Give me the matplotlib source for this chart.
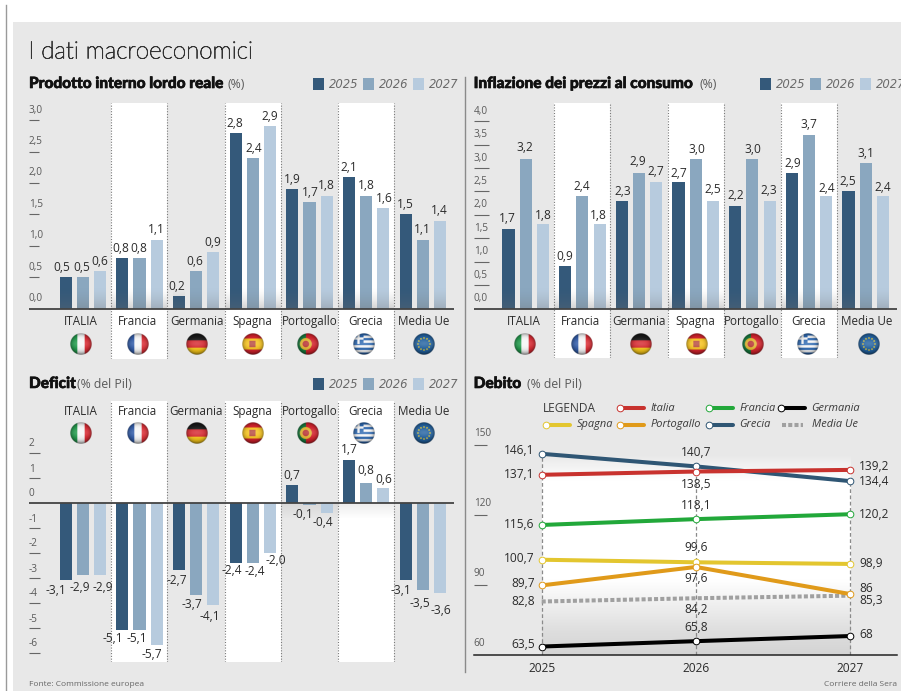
import numpy as np
import matplotlib
matplotlib.use("Agg")
import matplotlib.pyplot as plt
import matplotlib.patheffects as pe
from matplotlib.patches import Rectangle
from matplotlib.path import Path
from matplotlib.transforms import blended_transform_factory

# ---------- data ----------
countries = ["ITALIA", "Francia", "Germania", "Spagna", "Portogallo", "Grecia", "Media Ue"]
flags = ["it", "fr", "de", "es", "pt", "gr", "eu"]
years = [2025, 2026, 2027]

pil_2025 = [0.5, 0.8, 0.2, 2.8, 1.9, 2.1, 1.5]
pil_2026 = [0.5, 0.8, 0.6, 2.4, 1.7, 1.8, 1.1]
pil_2027 = [0.6, 1.1, 0.9, 2.9, 1.8, 1.6, 1.4]

infl_2025 = [1.7, 0.9, 2.3, 2.7, 2.2, 2.9, 2.5]
infl_2026 = [3.2, 2.4, 2.9, 3.2, 3.2, 3.7, 3.1]
infl_2027 = [1.8, 1.8, 2.7, 2.3, 2.3, 2.4, 2.4]
infl_lab_2025 = ["1,7", "0,9", "2,3", "2,7", "2,2", "2,9", "2,5"]
infl_lab_2026 = ["3,2", "2,4", "2,9", "3,0", "3,0", "3,7", "3,1"]
infl_lab_2027 = ["1,8", "1,8", "2,7", "2,5", "2,3", "2,4", "2,4"]

def_2025 = [-3.1, -5.1, -2.7, -2.4, 0.7, 1.7, -3.1]
def_2026 = [-2.9, -5.1, -3.7, -2.4, -0.1, 0.8, -3.5]
def_2027 = [-2.9, -5.7, -4.1, -2.0, -0.4, 0.6, -3.6]

debt_it = [137.1, 138.5, 139.2]
debt_fr = [115.6, 118.1, 120.2]
debt_de = [63.5, 65.8, 68]
debt_es = [100.7, 99.6, 98.9]
debt_pt = [89.7, 97.6, 86]
debt_gr = [146.1, 140.7, 134.4]
debt_eu = [82.8, 84.2, 85.3]

# ---------- style / layout ----------
W, H = 901, 691
FONT = "Open Sans"
plt.rcParams["font.family"] = [FONT, "DejaVu Sans"]
C = ["#34597a", "#8aa7bf", "#b7cbde"]
BG = "#e8e8e8"
TXT = "#2b2b2b"
GREY = "#5a5a5a"
C_IT, C_FR, C_DE, C_ES, C_PT, C_GR, C_EU = "#c8322e", "#22a83a", "#000000", "#e3c62f", "#e09a1a", "#2f5674", "#a0a0a0"
VAL_FS = 8.6

pil_dx = [[-4, -1, 0], [-1.3, -.7, 0], [-2, -1.5, -.7], [-1, .7, -.3], [-.3, .7, -.3], [0, 0, .7], [-.7, -.3, -.3]]
infl_dx = [[-1, -.7, .3], [-.7, -.3, -1], [1, -1, -.7], [.3, .7, .3], [1, .3, -.3], [.7, -.3, .3], [-.3, -.3, -.3]]
infl_dy = [[10.7, 10.7, 9], [9.7, 10, 8.7], [9, 10.7, 10.7], [9, 9.3, 11.3], [10.3, 9.3, 10.7], [9, 10.7, 8], [9.7, 10, 9]]
def_dx = [[-10, -3, 2.3], [-9.7, -2.3, -5.3], [-2, -4, -3], [-4, 2, 5.7], [-.7, -6.7, -4.3], [.3, 0, .7], [-4.7, -2.7, .7]]
def_dy = [[10, 12, 12.7], [8.3, 8.3, 9], [10.7, 9, 11.7], [8.3, 9, 8.3], [9.7, 9, 10.3], [10.3, 12.3, 8.3], [10.3, 13, 17.7]]
lab_x_l = [80.7, 137.3, 197.3, 252.3, 309.3, 365.7, 423.3]
lab_x_d = [80.7, 137.3, 196, 252.3, 309.3, 365.7, 423.3]
flag_x_l = [80.7, 137.3, 196.7, 252.3, 308, 363.7, 423.7]
lab_x_r = [524, 580.3, 638.7, 695.7, 752, 809, 866.7]
flag_x_r = [525, 581.7, 641, 697, 752.7, 808, 868.3]

fig = plt.figure(figsize=(W / 100, H / 100), dpi=100, facecolor="white")


def px_axes(l, r, t, b, z):
    a = fig.add_axes([l / W, 1 - b / H, (r - l) / W, (b - t) / H], zorder=z)
    a.patch.set_alpha(0)
    return a


back = px_axes(0, W, 0, H, 0)
back.set_xlim(0, W); back.set_ylim(H, 0); back.axis("off")
back.add_patch(Rectangle((13, 22), W - 13, H - 22, fc=BG, ec="none"))
back.plot([5.7, 5.7], [5, 691], color="#9a9a9a", lw=1)
back.plot([464.5, 464.5], [77, 672], color="#8a8a8a", lw=1)

top = px_axes(0, W, 0, H, 5)
top.set_xlim(0, W); top.set_ylim(H, 0); top.axis("off")


def T(x, y, s, **kw):
    kw.setdefault("va", "center")
    kw.setdefault("color", TXT)
    return top.text(x, y, s, **kw)


def make_flag(name, n=96):
    v, u = np.mgrid[-1:1:n * 1j, -1:1:n * 1j]
    r = np.hypot(u, v)
    img = np.ones((n, n, 3))
    def col(h):
        return np.array(matplotlib.colors.to_rgb(h))
    if name == "it":
        img[u < -.33] = col("#1f9a4a"); img[(u >= -.33) & (u < .33)] = col("#f6f6f6"); img[u >= .33] = col("#d8262f")
    elif name == "fr":
        img[u < -.33] = col("#2f5aa8"); img[(u >= -.33) & (u < .33)] = col("#f6f6f6"); img[u >= .33] = col("#dc2c34")
    elif name == "de":
        img[v < -.33] = col("#161616"); img[(v >= -.33) & (v < .33)] = col("#d4232a"); img[v >= .33] = col("#f5c518")
    elif name == "es":
        img[:] = col("#d3202a"); img[np.abs(v) < .5] = col("#f6c21c")
        img[(np.abs(u + .05) < .28) & (np.abs(v) < .3)] = col("#b5463a")
    elif name == "pt":
        img[:] = col("#d3202a"); img[u < -.2] = col("#137a3c")
        img[np.hypot(u + .2, v) < .55] = col("#e0b32a")
        img[np.hypot(u + .2, v) < .3] = col("#b52a2a")
    elif name == "gr":
        s = np.floor((v + 1) / 2 * 9).astype(int) % 2
        img[s == 0] = col("#2a66b0"); img[s == 1] = col("#f8f8f8")
        c = (u < -.05) & (v < 0)
        img[c] = col("#2a66b0")
        img[c & ((np.abs(u + .5) < .11) | (np.abs(v + .5) < .11))] = col("#f8f8f8")
    else:
        img[:] = col("#1f5f9e")
        for a in np.arange(12) * np.pi / 6:
            img[np.hypot(u - .55 * np.cos(a), v - .55 * np.sin(a)) < .075] = col("#e9c92c")
    shade = 1 - .45 * np.clip(r, 0, 1) ** 5 - .2 * np.clip(v, 0, 1) ** 2
    img = img * shade[..., None]
    hi = np.exp(-((u / .9) ** 2 + ((v + .05) / .4) ** 2)) * .2
    img = img + (1 - img) * hi[..., None]
    alpha = np.clip((1 - r) * n / 4, 0, 1)
    return np.dstack([np.clip(img, 0, 1), alpha])


def draw_flags(xs, y):
    for f, x in zip(flags, xs):
        top.imshow(make_flag(f), extent=(x - 10.6, x + 10.6, y + 10.6, y - 10.6), aspect="auto", zorder=3)
    top.set_xlim(0, W); top.set_ylim(H, 0)


def legend_years(xs, y):
    for x, yr, c in zip(xs, years, C):
        top.add_patch(Rectangle((x, y - 5.6), 11, 11.2, fc=c, ec="none"))
        T(x + 15.6, y, str(yr), family="DejaVu Sans", style="italic", fontsize=8.4, color="#6a6a6a", clip_on=False)


def heading(x, y, bold, x2, rest):
    T(x, y, bold, family=["Lato"], fontweight="black", fontsize=11.1, color="#111111",
      path_effects=[pe.withStroke(linewidth=.45, foreground="#111111")])
    T(x2, y, rest, fontsize=8.8, color=GREY)


def bar_panel(l, r, c0, base, ppu, t, b, series, labels, dx, dy, ticks, ticklabels, tick_len, tick_up, shadow=True):
    pitch = 56.67
    ax = px_axes(l, r, t, b, 1)
    ax.set_xlim((l - c0) / pitch, (r - c0) / pitch)
    ax.set_ylim((base - b) / ppu, (base - t) / ppu)
    for s in ax.spines.values():
        s.set_visible(False)
    ax.set_xticks([])
    yl0, yl1 = ax.get_ylim()
    clip_parts = []
    for g in (1, 3, 5):
        ax.axvspan(g - .494, g + .494, color="white", lw=0, zorder=0)
        clip_parts.append(Path.unit_rectangle().transformed(
            matplotlib.transforms.Affine2D().scale(.988, yl1 - yl0).translate(g - .494, yl0)))
    for g in (1, 3, 5):
        for e in (-.494, .494):
            ax.axvline(g + e, color="#7a7a7a", lw=.8, ls=(0, (1, 1.5)), zorder=.5)
    x = np.arange(len(countries))
    off = 17.2 / pitch
    bw = 12.1 / pitch
    for k, vals in enumerate(series):
        ax.bar(x + (k - 1) * off, vals, width=bw, color=C[k], zorder=2)
        for i, v in enumerate(vals):
            clip_parts.append(Path.unit_rectangle().transformed(
                matplotlib.transforms.Affine2D().scale(bw, yl1 - yl0).translate(x[i] + (k - 1) * off - bw / 2, yl0)))
            sgn = 1 if v >= 0 else -1
            ax.annotate(labels[k][i], (x[i] + (k - 1) * off, v), xytext=(dx[i][k], sgn * dy[i][k]),
                        textcoords="offset pixels", ha="center", va="center",
                        fontsize=VAL_FS, color=TXT, zorder=4, annotation_clip=False)
    xl, yl = ax.get_xlim(), ax.get_ylim()
    if shadow:
        grad = np.zeros((64, 2, 4)); grad[..., :3] = .42
        grad[..., 3] = (np.linspace(0, 1, 64)[:, None] ** 1.5) * .3
        im = ax.imshow(grad, extent=(xl[0], xl[1], 0, 22 / ppu), origin="upper", aspect="auto", zorder=3)
        im.set_clip_path(Path.make_compound_path(*clip_parts), ax.transData)
    else:
        g2 = np.zeros((64, 2, 4)); g2[..., :3] = .45
        g2[..., 3] = np.linspace(.14, 0, 64)[:, None]
        ax.imshow(g2, extent=(3.506, 5.494, -16 / ppu, 0), origin="upper", aspect="auto", zorder=1)
    ax.set_xlim(xl); ax.set_ylim(yl)
    ax.axhline(0, color="#444444", lw=1.3, zorder=5)
    shown = [v for v in ticks if v != 0]
    ax.set_yticks(shown)
    ax.set_yticklabels([])
    ax.tick_params(axis="y", direction="in", length=tick_len * .72, width=.8, color="#666666")
    tr = blended_transform_factory(ax.transAxes, ax.transData)
    for v, s in zip(ticks, ticklabels):
        ax.annotate(s, (0, v), xycoords=tr, xytext=(0, tick_up), textcoords="offset pixels",
                    ha="left", va="center", fontsize=7.2, color=GREY, annotation_clip=False)
    return ax


# ---------- title ----------
T(28.5, 52, "I dati macroeconomici", fontsize=17.4, color="#333333", fontweight="light", family=["Lato"],
  path_effects=[pe.withStroke(linewidth=.55, foreground="#333333")])

# ---------- PIL ----------
heading(29, 84, "Prodotto interno lordo reale", 227, "(%)")
legend_years([313.3, 363.3, 413], 84)
pil = [pil_2025, pil_2026, pil_2027]
pil_lab = [[f"{v:.1f}".replace(".", ",") for v in s] for s in pil]
pil_dy = [[9.7] * 3] * 7
pt = [0, .5, 1, 1.5, 2, 2.5, 3]
bar_panel(29, 454, 82.8, 308.6, 62.8, 102.7, 358.7, pil, pil_lab, pil_dx, pil_dy, pt,
          [f"{v:.1f}".replace(".", ",") for v in pt], 10, 10)
for s, x in zip(countries, lab_x_l):
    T(x, 321.7, s, ha="center", fontsize=8.4)
draw_flags(flag_x_l, 344.3)

# ---------- inflazione ----------
heading(473.7, 84, "Inflazione dei prezzi al consumo", 699.7, "(%)")
legend_years([760, 810, 860], 84)
it = [0, .5, 1, 1.5, 2, 2.5, 3, 3.5, 4]
bar_panel(473.7, 896.7, 525.7, 308.7, 46.9, 103.3, 358.3, [infl_2025, infl_2026, infl_2027],
          [infl_lab_2025, infl_lab_2026, infl_lab_2027], infl_dx, infl_dy, it,
          [f"{v:.1f}".replace(".", ",") for v in it], 15, 10)
for s, x in zip(countries, lab_x_r):
    T(x, 321.7, s, ha="center", fontsize=8.4)
draw_flags(flag_x_r, 344.3)

# ---------- deficit ----------
heading(29, 384, "Deficit", 77, "(% del Pil)")
legend_years([313.3, 363.3, 413], 384)
de = [def_2025, def_2026, def_2027]
de_lab = [[f"{v:.1f}".replace(".", ",") for v in s] for s in de]
dt = [2, 1, 0, -1, -2, -3, -4, -5, -6]
bar_panel(29, 454, 82.8, 502.7, 25, 401.3, 662.3, de, de_lab, def_dx, def_dy, dt, [str(v) for v in dt], 10.5, 8.7,
          shadow=False)
for s, x in zip(countries, lab_x_d):
    T(x, 411, s, ha="center", fontsize=8.4)
draw_flags(flag_x_l, 433.3)

# ---------- debito ----------
heading(473.7, 384, "Debito", 526.7, "(% del Pil)")
base, ppu, l, r, tp = 654.7, 7 / 3, 473.7, 896.7, 430
ax = px_axes(l, r, tp, base, 1)
ax.set_xlim(2025 + (l - 541.7) / 154.15, 2025 + (r - 541.7) / 154.15)
ax.set_ylim(60, 60 + (base - tp) / ppu)
for sp in ("top", "left", "right"):
    ax.spines[sp].set_visible(False)
ax.spines["bottom"].set_color("#222222"); ax.spines["bottom"].set_linewidth(1.1)
yy = np.linspace(60, 146, 200)
grad = np.ones((200, 2, 4))
shade = np.interp(yy, [60, 70, 92, 135, 146], [.83, .87, 1, 1, .91])
grad[..., :3] = shade[:, None, None]
grad[..., 3] = 1
xl, yl = ax.get_xlim(), ax.get_ylim()
ax.imshow(grad, extent=(2025, 2027, 60, 146), origin="lower", aspect="auto", zorder=0)
ax.set_xlim(xl); ax.set_ylim(yl)
series = [(debt_gr, C_GR), (debt_it, C_IT), (debt_fr, C_FR), (debt_es, C_ES), (debt_pt, C_PT), (debt_de, C_DE)]
for i, yr in enumerate(years):
    ax.plot([yr, yr], [60, debt_gr[i]], color="#8a8a8a", lw=.9, ls=(0, (3, 2)), zorder=1)
ax.plot(years, debt_eu, color=C_EU, lw=2.9, ls=(0, (1, .55)), zorder=2)
for vals, c in series:
    ax.plot(years, vals, color=c, lw=2.9, zorder=3, solid_capstyle="butt",
            marker="o", ms=4.8, mfc="white", mec=c, mew=.7)
ax.set_xticks(years)
ax.set_xticklabels([str(y) for y in years], fontsize=8.6, color=TXT)
ax.tick_params(axis="x", length=0, pad=5)
ax.set_yticks([90, 120, 150])
ax.set_yticklabels([])
ax.tick_params(axis="y", direction="in", length=9.5, width=.8, color="#666666")
tr = blended_transform_factory(ax.transAxes, ax.transData)
for v in [60, 90, 120, 150]:
    ax.annotate(str(v), (0, v), xycoords=tr, xytext=(0, 11.5), textcoords="offset pixels",
                ha="left", va="center", fontsize=7.2, color=GREY, annotation_clip=False)
lab = lambda v: f"{v:g}".replace(".", ",")
left_up = {"gr": 3, "it": 0, "fr": 0, "es": 1, "pt": 2, "eu": 0, "de": 2}
mid_up = {"gr": 14, "it": -13.3, "fr": 13.3, "es": 14.7, "pt": -11.7, "eu": -11, "de": 14}
right_up = {"gr": 0, "it": 3, "fr": 0, "es": 0, "pt": 5.3, "eu": -4.7, "de": 2}
named = {"gr": debt_gr, "it": debt_it, "fr": debt_fr, "es": debt_es, "pt": debt_pt, "eu": debt_eu, "de": debt_de}
for k, v in named.items():
    for i, (up, dx, ha) in enumerate([(left_up[k], -7, "right"), (mid_up[k], 0, "center"), (right_up[k], 9.3, "left")]):
        ax.annotate(lab(v[i]), (years[i], v[i]), xytext=(dx, up), textcoords="offset pixels",
                    ha=ha, va="center", fontsize=VAL_FS, color=TXT, zorder=6, annotation_clip=False)

# debt legend
T(542.7, 408.3, "LEGENDA", fontsize=8.6, color="#3a3a3a")
rows = [("Italia", C_IT, 620, 408.3), ("Francia", C_FR, 708.7, 408.3), ("Germania", C_DE, 781, 408.3),
        ("Spagna", C_ES, 546, 424.7), ("Portogallo", C_PT, 620, 424.7), ("Grecia", C_GR, 708.7, 424.7)]
for name, c, x, y in rows:
    top.plot([x, x + 24], [y, y], color=c, lw=2.9, solid_capstyle="round", zorder=2)
    top.plot([x], [y], "o", ms=4.8, mfc="white", mec=c, mew=.7, zorder=3)
    T(x + 30.5, y, name, style="italic", fontsize=7.9, color="#3a3a3a")
top.plot([782.3, 803], [424.7, 424.7], color=C_EU, lw=2.9, ls=(0, (1, .55)))
T(812.3, 424.7, "Media Ue", style="italic", fontsize=7.9, color="#3a3a3a")

# ---------- footer ----------
T(29, 684, "Fonte: Commissione europea", fontsize=6, color="#666666")
T(896.7, 684, "Corriere della Sera", fontsize=6, color="#666666", ha="right")

fig.savefig("out.png", dpi=100)
